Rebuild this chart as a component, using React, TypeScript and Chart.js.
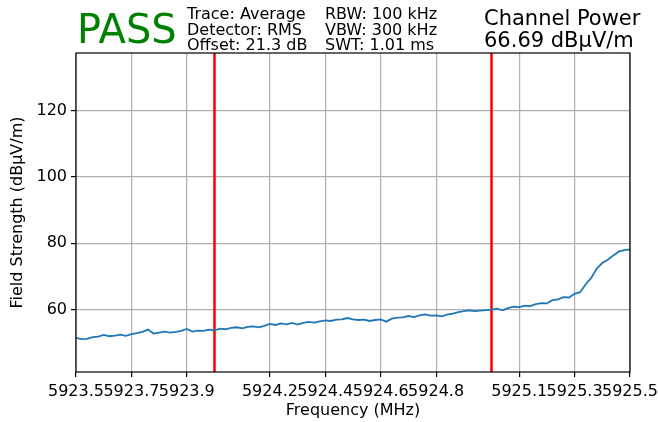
import React, { useEffect, useRef } from "react";
import { Chart, registerables } from "chart.js";

Chart.register(...registerables);

// ---- data ----
const sweepStartMHz = 5923.55;
const sweepStepMHz = 0.02;
const traceValues = [
  51.4, 51.0, 51.1, 51.6, 51.8, 52.3, 51.9, 52.1, 52.4, 52.0,
  52.5, 52.8, 53.2, 53.9, 52.7, 53.0, 53.3, 53.0, 53.2, 53.5,
  54.1, 53.3, 53.6, 53.5, 53.9, 53.7, 54.2, 54.0, 54.4, 54.6,
  54.3, 54.7, 54.9, 54.6, 55.0, 55.6, 55.3, 55.8, 55.5, 55.9,
  55.4, 55.9, 56.2, 56.0, 56.4, 56.7, 56.5, 56.9, 57.0, 57.4,
  57.0, 56.8, 56.9, 56.5, 56.8, 57.0, 56.3, 57.2, 57.5, 57.6,
  58.0, 57.7, 58.2, 58.5, 58.1, 58.2, 57.9, 58.4, 58.7, 59.2,
  59.5, 59.7, 59.5, 59.6, 59.8, 59.9, 60.2, 59.7, 60.4, 60.8,
  60.7, 61.1, 61.0, 61.6, 61.9, 61.8, 62.8, 63.0, 63.7, 63.6,
  64.7, 65.2, 67.6, 69.5, 72.3, 74.0, 75.0, 76.3, 77.5, 77.9,
  78.1,
];
const markerFreqs = [5924.05, 5925.05];
const xTickValues = [5923.55, 5923.75, 5923.95, 5924.25, 5924.45, 5924.65, 5924.85, 5925.15, 5925.35, 5925.55];
const xTickLabels = ["5923.5", "5923.7", "5923.9", "5924.2", "5924.4", "5924.6", "5924.8", "5925.1", "5925.3", "5925.5"];
const yTickValues = [60, 80, 100, 120];
const xRange = [5923.55, 5925.55];
const yRange = [41.1, 137.4];
const verdictText = "PASS";
const infoColumn1 = ["Trace: Average", "Detector: RMS", "Offset: 21.3 dB"];
const infoColumn2 = ["RBW: 100 kHz", "VBW: 300 kHz", "SWT: 1.01 ms"];
const powerLines = ["Channel Power", "66.69 dBµV/m"];
const xTitle = "Frequency (MHz)";
const yTitle = "Field Strength (dBµV/m)";

const FONT = "'DejaVu Sans', sans-serif";

export default function App() {
  const canvasRef = useRef<HTMLCanvasElement | null>(null);

  useEffect(() => {
    document.body.style.margin = "0";
    const canvas = canvasRef.current;
    if (!canvas) return;

    const textPlugin = {
      id: "headerText",
      afterDraw(chart: any) {
        const ctx = chart.ctx;
        const area = chart.chartArea;
        ctx.save();
        // frame (all four spines)
        ctx.strokeStyle = "#000";
        ctx.lineWidth = 1.2;
        ctx.strokeRect(area.left, area.top, area.right - area.left, area.bottom - area.top);
        ctx.textAlign = "left";
        ctx.textBaseline = "alphabetic";
        ctx.fillStyle = "#008000";
        ctx.font = `40px ${FONT}`;
        ctx.fillText(verdictText, 77, 43);
        ctx.fillStyle = "#000";
        ctx.font = `16px ${FONT}`;
        infoColumn1.forEach((t, i) => ctx.fillText(t, 187, 19 + i * 15.5));
        infoColumn2.forEach((t, i) => ctx.fillText(t, 325, 19 + i * 15.5));
        ctx.font = `21px ${FONT}`;
        powerLines.forEach((t, i) => ctx.fillText(t, 484, 25 + i * 22));
        ctx.restore();
      },
    };

    const chart = new Chart(canvas, {
      type: "line",
      data: {
        datasets: [
          {
            data: traceValues.map((v, i) => ({ x: sweepStartMHz + i * sweepStepMHz, y: v })),
            borderColor: "#1f77b4",
            borderWidth: 1.8,
            pointRadius: 0,
            tension: 0,
          },
          ...markerFreqs.map((f) => ({
            data: [
              { x: f, y: yRange[0] },
              { x: f, y: yRange[1] },
            ],
            borderColor: "#ff0000",
            borderWidth: 2.5,
            pointRadius: 0,
          })),
        ],
      },
      options: {
        animation: false,
        responsive: true,
        maintainAspectRatio: false,
        layout: { padding: { left: 0, top: 53, right: 28, bottom: 0 } },
        plugins: { legend: { display: false }, tooltip: { enabled: false }, title: { display: false } },
        scales: {
          x: {
            type: "linear",
            min: xRange[0],
            max: xRange[1],
            afterBuildTicks: (s: any) => {
              s.ticks = xTickValues.map((v) => ({ value: v }));
            },
            afterFit: (s: any) => {
              s.height = 50;
              s.paddingLeft = 0;
              s.paddingRight = 0;
            },
            ticks: {
              autoSkip: false,
              maxRotation: 0,
              minRotation: 0,
              padding: 5,
              color: "#000",
              font: { family: FONT, size: 16 },
              callback: (_v: any, i: number) => xTickLabels[i],
            },
            grid: { color: "#b0b0b0", lineWidth: 1.2, tickLength: 5, tickColor: "#000", tickWidth: 1.2 },
            border: { display: false },
            title: {
              display: true,
              text: xTitle,
              color: "#000",
              font: { family: FONT, size: 16 },
              padding: { top: 0, bottom: 2 },
            },
          },
          y: {
            type: "linear",
            min: yRange[0],
            max: yRange[1],
            afterBuildTicks: (s: any) => {
              s.ticks = yTickValues.map((v) => ({ value: v }));
            },
            afterFit: (s: any) => {
              s.width = 76;
              s.paddingTop = 0;
              s.paddingBottom = 0;
            },
            ticks: {
              padding: 4,
              color: "#000",
              font: { family: FONT, size: 16 },
            },
            grid: { color: "#b0b0b0", lineWidth: 1.2, tickLength: 5, tickColor: "#000", tickWidth: 1.2 },
            border: { display: false },
            title: {
              display: true,
              text: yTitle,
              color: "#000",
              font: { family: FONT, size: 16 },
              padding: { top: 8, bottom: 0 },
            },
          },
        },
      },
      plugins: [textPlugin],
    });

    return () => chart.destroy();
  }, []);

  return (
    <div style={{ width: 658, height: 422, position: "relative" }}>
      <canvas ref={canvasRef} />
    </div>
  );
}
